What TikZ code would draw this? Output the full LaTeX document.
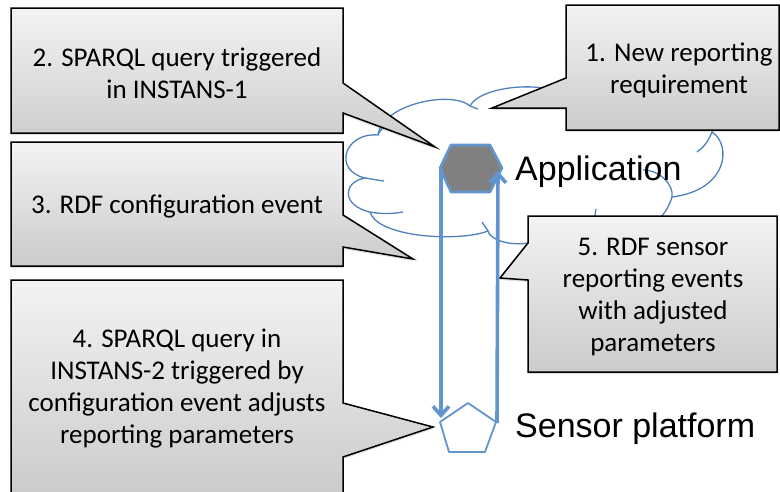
\documentclass[tikz,border=0pt]{standalone}
\usepackage{fontspec}
\setmainfont{Carlito}
\newfontfamily\arialfont{Liberation Sans}
\usetikzlibrary{arrows.meta,shadows}
\definecolor{cloudblue}{RGB}{79,129,189}
\definecolor{arrowblue}{RGB}{98,148,206}
\definecolor{caltop}{RGB}{243,243,243}
\definecolor{calbot}{RGB}{203,203,203}
\definecolor{hexgray}{RGB}{128,128,128}
\tikzset{
  callout/.style={draw=black, line width=1.5pt, top color=caltop, bottom color=calbot,
    line join=miter, drop shadow={shadow xshift=0pt, shadow yshift=-2pt, opacity=0.25}},
  calltext/.style={align=center, font=\fontsize{27}{32}\selectfont, inner sep=0pt},
  bigtext/.style={font=\arialfont\fontsize{34}{40}\selectfont, anchor=base west, inner sep=0pt},
  cloudline/.style={draw=cloudblue, line width=1.3pt},
  flow/.style={draw=arrowblue, line width=3.6pt, -{Straight Barb[length=9pt,width=16pt]}},
}
\begin{document}
\begin{tikzpicture}[x=1pt,y=-1pt]
\useasboundingbox (0,0) rectangle (780,491);
\clip (0,0) rectangle (780,491);
% cloud
\draw[cloudline] (378,135) .. controls (382,104) and (452,90) .. (470,106)
  .. controls (480,86) and (545,80) .. (565,96)
  .. controls (600,70) and (690,75) .. (695,112)
  .. controls (712,108) and (718,120) .. (712,132)
  .. controls (732,145) and (728,190) .. (672,197)
  .. controls (668,210) and (660,222) .. (645,228)
  .. controls (630,250) and (555,256) .. (528,243)
  .. controls (510,246) and (490,240) .. (488,231)
  .. controls (460,242) and (378,238) .. (370,212)
  .. controls (342,206) and (342,182) .. (365,178)
  .. controls (332,170) and (345,132) .. (378,135) -- cycle;
\draw[cloudline] (470,106) .. controls (472,107) and (475,108) .. (478,109);
\draw[cloudline] (365,178) .. controls (371,179) and (377,180) .. (384,181);
\draw[cloudline] (370,212) .. controls (381,214) and (392,214) .. (403,212);
\draw[cloudline] (488,231) .. controls (486,228) and (484,225) .. (482,222);
\draw[cloudline] (672,197) .. controls (674,185) and (660,170) .. (643,170);
\draw[cloudline] (712,132) .. controls (708,142) and (703,148) .. (697,152);
\draw[cloudline] (378,135) .. controls (380,131) and (382,128) .. (385,126);
\draw[cloudline] (595,216) .. controls (595,213) and (596,211) .. (596,209);
% callouts
\path[callout] (11,8) -- (343,8) -- (343,83) -- (435,147) -- (343,113) -- (343,133) -- (11,133) -- cycle;
\path[callout] (11,142) -- (343,142) -- (343,215) -- (413,259) -- (343,247) -- (343,266) -- (11,266) -- cycle;
\path[callout] (11,280) -- (343,280) -- (343,403) -- (433,427) -- (343,457) -- (343,495) -- (11,495) -- cycle;
\path[callout] (566,5) -- (779,5) -- (779,130) -- (566,130) -- (566,108) -- (492,108) -- (566,78) -- cycle;
\path[callout] (528,216) -- (777,216) -- (777,372) -- (528,372) -- (528,280) -- (500,278) -- (528,243) -- cycle;
\node[calltext] (t1) at (679,70) {1. New reporting\\requirement};
\node[calltext] (t2) at (177,73) {2. SPARQL query triggered\\in INSTANS-1};
\node[calltext] (t3) at (177,206) {3. RDF configuration event};
\node[calltext] (t4) at (177,389) {4. SPARQL query in\\INSTANS-2 triggered by\\configuration event adjusts\\reporting parameters};
\node[calltext] (t5) at (653,297) {5. RDF sensor\\reporting events\\with adjusted\\parameters};
% hexagon and pentagon
\draw[draw=arrowblue, line width=2.6pt, fill=hexgray, line join=round]
  (451,145) -- (490,145) -- (502,168) -- (490,192) -- (451,192) -- (440,168) -- cycle;
\draw[draw=arrowblue, line width=1.8pt, fill=white, line join=round]
  (468,403) -- (496,422) -- (485,452) -- (449,452) -- (440,422) -- cycle;
\coordinate (hexL) at (441,168);
\coordinate (hexR) at (498,171);
\coordinate (pentL) at (441,418);
\coordinate (pentR) at (497,423);
\draw[flow] (hexL) -- (pentL);
\draw[flow] (pentR) -- (hexR);
\node[bigtext] (app) at (515,180) {Application};
\node[bigtext] (sens) at (515,437) {Sensor platform};
\end{tikzpicture}
\end{document}
